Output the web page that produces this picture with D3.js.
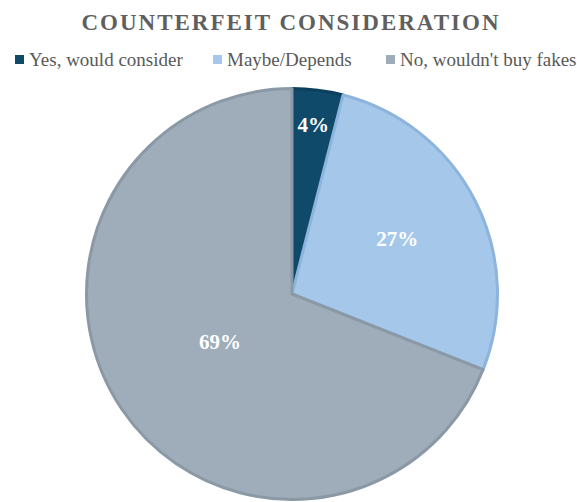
<!DOCTYPE html>
<html>
<head>
<meta charset="utf-8">
<script src="https://cdn.jsdelivr.net/npm/d3@7"></script>
<style>
  html, body { margin: 0; padding: 0; background: #ffffff; }
  svg { display: block; }
</style>
</head>
<body>
<svg id="chart" width="577" height="502"></svg>
<script>
// Survey answers and their shares (percent)
const categories = ["Yes, would consider", "Maybe/Depends", "No, wouldn't buy fakes"];
const values = [4, 27, 69];
const labels = ["4%", "27%", "69%"];
const fills = ["#0f4a6a", "#a5c8ea", "#9eadb9"];
const strokes = ["#0c3f5b", "#8db4dc", "#8b99a6"];

const W = 577, H = 502;
const svg = d3.select("#chart");
const serif = "'Liberation Serif', 'Times New Roman', serif";

// Title
svg.append("text")
  .attr("x", 291).attr("y", 30)
  .attr("text-anchor", "middle")
  .attr("font-family", serif)
  .attr("font-weight", "bold")
  .attr("font-size", 23)
  .attr("letter-spacing", 2)
  .attr("fill", "#5f5f5f")
  .text("COUNTERFEIT CONSIDERATION");

// Legend
const legendX = [15, 213, 386];
const legend = svg.append("g");
categories.forEach((c, i) => {
  const g = legend.append("g").attr("transform", `translate(${legendX[i]},0)`);
  g.append("rect").attr("x", 0).attr("y", 55).attr("width", 9).attr("height", 9)
    .attr("fill", fills[i]);
  g.append("text").attr("x", 14).attr("y", 66)
    .attr("font-family", serif).attr("font-size", 19).attr("fill", "#595959")
    .text(c);
});

// Pie
const cx = 292, cy = 294, R = 207;
const pie = d3.pie().sort(null).value(d => d);
const arcs = pie(values);
const arc = d3.arc().innerRadius(0).outerRadius(R - 1.5);

const g = svg.append("g").attr("transform", `translate(${cx},${cy})`);
g.selectAll("path.slice").data(arcs).join("path")
  .attr("class", "slice")
  .attr("d", arc)
  .attr("fill", (d, i) => fills[i])
  .attr("stroke", (d, i) => strokes[i])
  .attr("stroke-width", 3)
  .attr("stroke-linejoin", "round");

// Value labels: radial placement per slice
const labelRadius = [0.82, 0.57, 0.42];
g.selectAll("text.val").data(arcs).join("text")
  .attr("class", "val")
  .attr("transform", (d, i) => {
    const a = (d.startAngle + d.endAngle) / 2;
    const r = R * labelRadius[i];
    return `translate(${r * Math.sin(a)},${-r * Math.cos(a) + 6})`;
  })
  .attr("text-anchor", "middle")
  .attr("font-family", serif)
  .attr("font-weight", "bold")
  .attr("font-size", 21)
  .attr("fill", "#ffffff")
  .text((d, i) => labels[i]);
</script>
</body>
</html>
